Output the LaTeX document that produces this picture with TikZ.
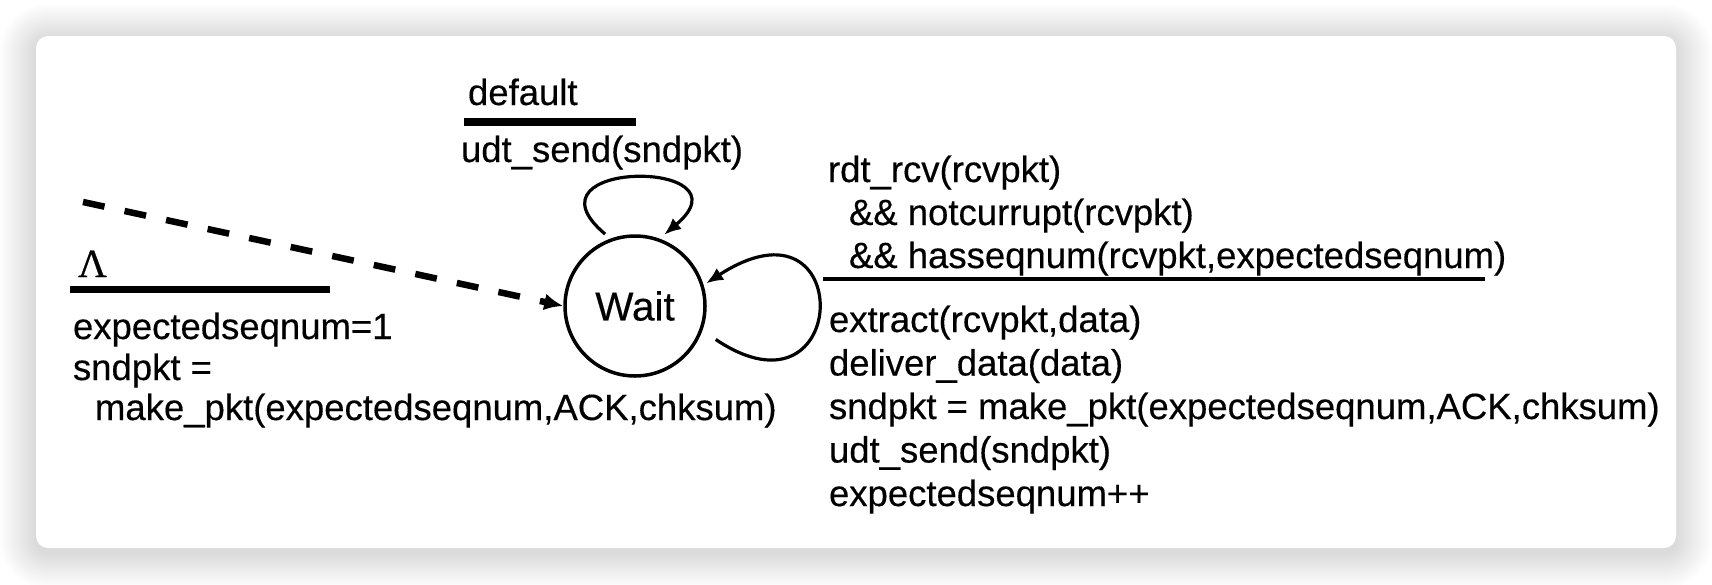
\documentclass[tikz,border=0pt]{standalone}
\usepackage{fontspec}
\setmainfont{Liberation Sans}[FakeBold=0.35]
\newfontfamily\lamfont{Liberation Serif}[FakeBold=0.5]
\usetikzlibrary{arrows.meta}
\begin{document}
\begin{tikzpicture}[x=1pt,y=-1pt,
  txt/.style={anchor=base west, inner sep=0pt, outer sep=0pt, font=\fontsize{36.5}{43}\selectfont},
  guardbar/.style={line width=8pt},
  thinbar/.style={line width=4pt},
  statenode/.style={circle, draw, line width=3.5pt, minimum size=140pt, inner sep=0pt, font=\fontsize{40.5}{48}\selectfont},
  loopline/.style={line width=3.2pt, -{Latex[length=17pt,width=14pt]}},
  initline/.style={line width=6.5pt, dash pattern=on 22pt off 20.5pt, -{Latex[length=19pt,width=17pt]}}
]
\useasboundingbox (0,0) rectangle (1712,584);
\fill[white] (0,0) rectangle (1712,584);
% soft shadow around the card
\foreach \i [evaluate=\i as \d using 2*\i, evaluate=\i as \r using 12+2*\i] in {1,...,18}
  \fill[black, opacity=0.0085, rounded corners=\r pt] (36-\d, 40-\d) rectangle (1676+\d, 552+\d);
\fill[white, rounded corners=12pt] (36,36) rectangle (1676,548);

% state
\node[statenode] (w) at (635,306) {Wait};

% initial transition
\coordinate (ds) at (83,202);
\draw[initline] (ds) -- (w.west);
\node[txt, font=\lamfont\fontsize{40}{48}\selectfont] (lam) at (78,277) {Λ};
\draw[guardbar, line width=7.5pt] (70,289.5) -- (330,289.5);
\node[txt] (i1) at (73,339) {expectedseqnum=1};
\node[txt] (i2) at (73,380) {sndpkt =};
\node[txt] (i3) at (95,420) {make\_pkt(expectedseqnum,ACK,chksum)};

% default self loop (top)
\node[txt] (d1) at (468,105) {default};
\draw[guardbar] (464,122) -- (636,122);
\node[txt] (d2) at (461,162) {udt\_send(sndpkt)};
\draw[loopline, shorten <=7pt, shorten >=6pt] (w.110) .. controls +(-95,-80) and +(95,-80) .. (w.70);

% receive self loop (right)
\node[txt] (r1) at (828,182) {rdt\_rcv(rcvpkt)};
\node[txt] (r2) at (849,225) {\&\& notcurrupt(rcvpkt)};
\node[txt] (r3) at (849,268) {\&\& hasseqnum(rcvpkt,expectedseqnum)};
\draw[thinbar] (823,279) -- (1485,279);
\node[txt] (a1) at (829,332) {extract(rcvpkt,data)};
\node[txt] (a2) at (829,375.5) {deliver\_data(data)};
\node[txt] (a3) at (829,419) {sndpkt = make\_pkt(expectedseqnum,ACK,chksum)};
\node[txt] (a4) at (829,462.5) {udt\_send(sndpkt)};
\node[txt] (a5) at (829,506) {expectedseqnum++};
\draw[loopline, shorten <=16pt, shorten >=3pt] (w.-20) .. controls +(149,100) and +(154,-100) .. (w.17);
\end{tikzpicture}
\end{document}
